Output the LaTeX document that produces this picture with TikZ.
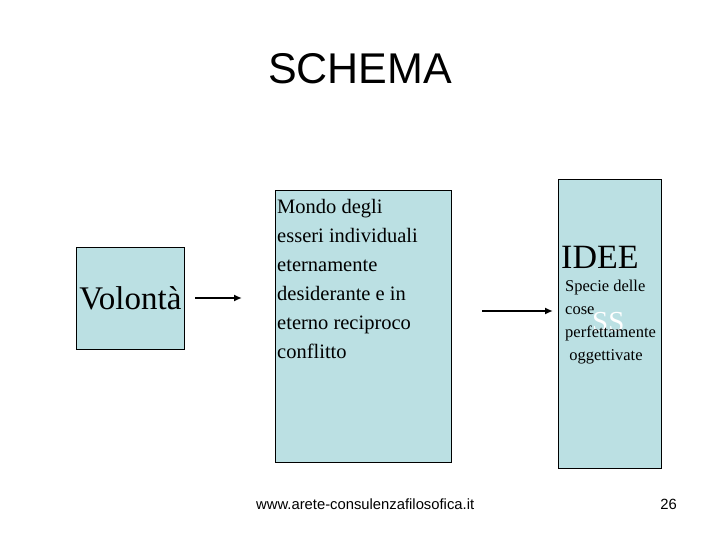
\documentclass[tikz,border=0pt]{standalone}
\usepackage{fontspec}
\setmainfont{Liberation Serif}
\newfontfamily\arialf{Liberation Sans}
\usetikzlibrary{arrows.meta}
\definecolor{boxfill}{HTML}{BBE0E3}
\tikzset{
  box/.style={draw=black, line width=0.8pt, fill=boxfill, inner sep=0pt},
  arr/.style={line width=1.8pt, -{Latex[length=8pt,width=7pt]}},
  txt/.style={inner sep=0pt, align=left},
}
\begin{document}
\begin{tikzpicture}[x=1pt,y=-1pt]
\useasboundingbox (0,0) rectangle (720,540);
% title
\node[inner sep=0pt, anchor=base, font=\arialf\fontsize{43}{50}\selectfont] (title) at (360,84) {SCHEMA};
% boxes
\node[box, minimum width=108pt, minimum height=102pt, anchor=north west,
      font=\fontsize{33}{38}\selectfont] (vol) at (76,247) {Volontà};
\node[box, minimum width=176pt, minimum height=272pt, anchor=north west] (mid) at (275,190) {};
\node[box, minimum width=103pt, minimum height=289pt, anchor=north west] (idee) at (558,179) {};
% middle text
\node[txt, anchor=north west, font=\fontsize{20.5}{29}\selectfont] (midtext) at (277,199)
 {Mondo degli\\esseri individuali\\eternamente\\desiderante e in\\eterno reciproco\\conflitto};
% right text
\node[inner sep=0pt, anchor=base west, font=\fontsize{34}{38}\selectfont] (ideet) at (561,268) {IDEE};
\node[inner sep=0pt, anchor=base west, font=\fontsize{29}{32}\selectfont, text=white] (ss) at (592,331) {SS};
\node[txt, anchor=north west, font=\fontsize{16.5}{23}\selectfont] (spec) at (565,280)
 {Specie delle\\cose\\perfettamente\\\ oggettivate};
% arrows
\coordinate (a1s) at (195,298);
\coordinate (a2s) at (482,311);
\draw[arr, shorten >=33pt] (a1s) -- (a1s -| mid.west);
\draw[arr, shorten >=5pt] (a2s) -- (a2s -| idee.west);
% footer
\node[inner sep=0pt, anchor=base west, font=\arialf\fontsize{14.8}{18}\selectfont] (url) at (256,509) {www.arete-consulenzafilosofica.it};
\node[inner sep=0pt, anchor=base east, font=\arialf\fontsize{14.8}{18}\selectfont] (num) at (677,509) {26};
\end{tikzpicture}
\end{document}
